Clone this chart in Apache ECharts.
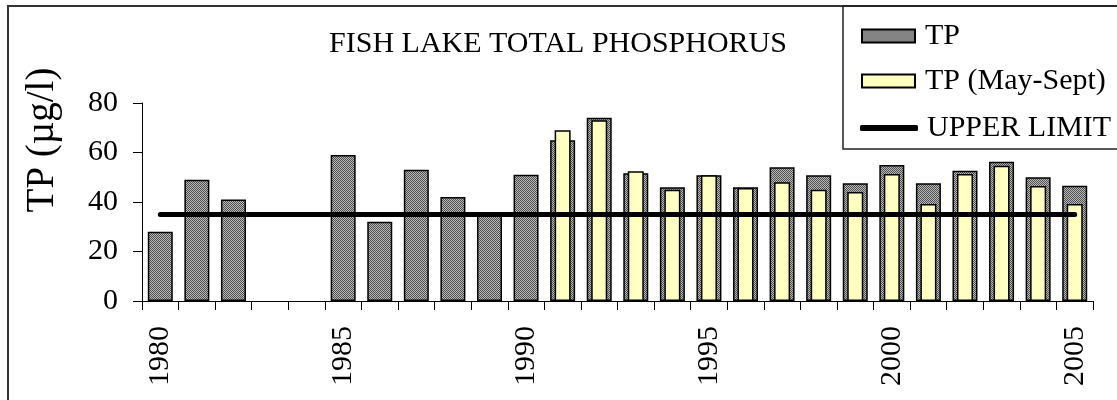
<!DOCTYPE html>
<html>
<head>
<meta charset="utf-8">
<script src="https://cdn.jsdelivr.net/npm/echarts@6/dist/echarts.min.js"></script>
<style>
html,body{margin:0;padding:0;background:#fff;}
#chart{width:1117px;height:400px;}
</style>
</head>
<body>
<div id="chart"></div>
<script>
// ---- data ----
var years = ['1980','1981','1982','1983','1984','1985','1986','1987','1988','1989','1990','1991','1992','1993','1994','1995','1996','1997','1998','1999','2000','2001','2002','2003','2004','2005'];
var tpValues = [28, 49, 41, null, null, 59, 32, 53, 42, 35, 51, 65, 74, 51.6, 46, 50.8, 46, 54, 50.8, 47.6, 55, 47.6, 52.6, 56.3, 50, 46.6];
var tpMaySeptValues = [null, null, null, null, null, null, null, null, null, null, null, 69, 73, 52.4, 45, 50.8, 45.7, 48, 45, 44, 51.3, 39.2, 51.3, 54.6, 46.5, 39.2];
var upperLimitValues = [35,35,35,35,35,35,35,35,35,35,35,35,35,35,35,35,35,35,35,35,35,35,35,35,35,35];
var yTicks = {min: 0, max: 80, interval: 20};

// ---- dithered grey pattern ----
var pc = document.createElement('canvas');
pc.width = 2; pc.height = 2;
var pctx = pc.getContext('2d');
pctx.fillStyle = '#b8b8b8'; pctx.fillRect(0,0,2,2);
pctx.fillStyle = '#505050'; pctx.fillRect(0,0,1,1); pctx.fillRect(1,1,1,1);
var greyPattern = {image: pc, repeat: 'repeat'};

var FONT = '"Liberation Serif", "Times New Roman", serif';

var chart = echarts.init(document.getElementById('chart'), null, {renderer: 'canvas'});
chart.setOption({
  animation: false,
  backgroundColor: '#ffffff',
  title: {
    text: 'FISH LAKE TOTAL PHOSPHORUS',
    left: 553, top: 24, textAlign: 'center',
    textStyle: {fontFamily: FONT, fontSize: 30, fontWeight: 'normal', color: '#000'}
  },
  legend: [
    {data: [{name: 'TP', icon: 'rect'}], left: 856, top: 16, itemWidth: 53, itemHeight: 13, selectedMode: false,
     textStyle: {fontFamily: FONT, fontSize: 30, color: '#000', padding: [0,0,10,5]}},
    {data: [{name: 'TP (May-Sept)', icon: 'rect'}], left: 856, top: 61, itemWidth: 53, itemHeight: 13, selectedMode: false,
     textStyle: {fontFamily: FONT, fontSize: 30, color: '#000', padding: [0,0,10,5]}},
    {data: [{name: 'UPPER LIMIT', icon: 'roundRect', itemStyle: {color: '#000', borderWidth: 0}}],
     left: 855, top: 108, itemWidth: 58, itemHeight: 6, selectedMode: false,
     textStyle: {fontFamily: FONT, fontSize: 30, color: '#000', padding: [0,0,4,4]}}
  ],
  grid: {left: 142, right: 24, top: 103, bottom: 99, containLabel: false},
  xAxis: [
    {type: 'category', data: years, boundaryGap: true,
     axisLine: {lineStyle: {color: '#000', width: 1}},
     axisTick: {show: true, interval: 0, length: 9, lineStyle: {color: '#000'}},
     axisLabel: {interval: 4, rotate: 90, margin: 25, fontFamily: FONT, fontSize: 30, color: '#000'},
     splitLine: {show: false}},
    {type: 'category', data: years, boundaryGap: true, show: false}
  ],
  yAxis: {
    type: 'value', min: yTicks.min, max: yTicks.max, interval: yTicks.interval,
    name: 'TP (µg/l)', nameLocation: 'middle', nameRotate: 90, nameGap: 80,
    nameTextStyle: {fontFamily: FONT, fontSize: 39, color: '#000', padding: [0,0,0,124]},
    axisLine: {show: true, lineStyle: {color: '#000', width: 1}},
    axisTick: {show: true, length: 9, lineStyle: {color: '#000'}},
    axisLabel: {margin: 24, fontFamily: FONT, fontSize: 30, color: '#000'},
    splitLine: {show: false}
  },
  series: [
    {name: 'TP', type: 'bar', xAxisIndex: 0, data: tpValues, barWidth: 25,
     itemStyle: {color: greyPattern, borderColor: '#000', borderWidth: 1.5}, z: 2},
    {name: 'TP (May-Sept)', type: 'bar', xAxisIndex: 1, data: tpMaySeptValues, barWidth: 16,
     itemStyle: {color: '#ffffc0', borderColor: '#000', borderWidth: 1.5}, z: 3},
    {name: 'UPPER LIMIT', type: 'line', xAxisIndex: 0, data: upperLimitValues, symbol: 'none',
     lineStyle: {color: '#000', width: 5, cap: 'round'}, itemStyle: {color: '#000'}, z: 5}
  ],
  graphic: [
    {type: 'rect', shape: {x: 8, y: 6, width: 1300, height: 600}, style: {fill: 'none', stroke: '#333', lineWidth: 2}, silent: true, z: 100},
    {type: 'rect', shape: {x: 843, y: 6, width: 400, height: 143}, style: {fill: 'none', stroke: '#222', lineWidth: 1.5}, silent: true, z: 100}
  ]
});
</script>
</body>
</html>
